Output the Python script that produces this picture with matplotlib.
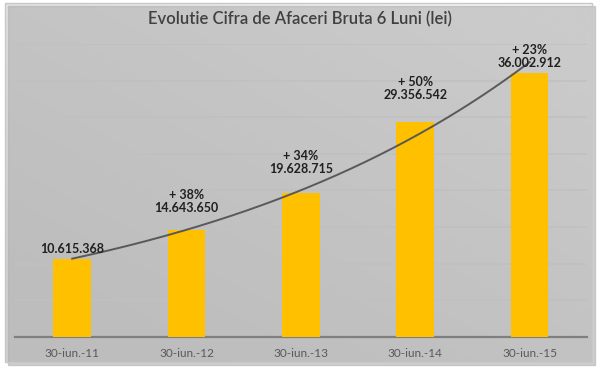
import numpy as np
import matplotlib.pyplot as plt
from matplotlib.patches import Rectangle
from matplotlib.colors import LinearSegmentedColormap

# data
dates = ['30-iun.-11', '30-iun.-12', '30-iun.-13', '30-iun.-14', '30-iun.-15']
values = [10615368, 14643650, 19628715, 29356542, 36002912]
growth = ['', '+ 38%', '+ 34%', '+ 50%', '+ 23%']

def fmt(v):
    return '{:,}'.format(v).replace(',', '.')

plt.rcParams['font.family'] = ['Lato', 'DejaVu Sans']

fig = plt.figure(figsize=(6, 3.69), dpi=100)
fig.patch.set_facecolor('white')

# background panel with a soft gradient and shadow
bg = fig.add_axes([0, 0, 1, 1], zorder=-10)
bg.set_xlim(0, 600)
bg.set_ylim(369, 0)
bg.axis('off')
bg.add_patch(Rectangle((8, 6), 587, 359, color='#b0b0b0', alpha=0.6))
yy, xx = np.mgrid[0:1:200j, 0:1:300j]
grad = np.clip(0.6 * (1 - xx) + 0.6 * yy - 0.1 * (1 - yy), 0, 1)
cm = LinearSegmentedColormap.from_list('bgc', ['#f4f4f4', '#e2e2e2', '#d2d2d2'])
bg.imshow(grad, extent=(5, 592, 362, 3), cmap=cm, vmin=0, vmax=1,
          aspect='auto', interpolation='bicubic')
bg.add_patch(Rectangle((5, 3), 587, 359, fill=False, ec='#c8c8c8', lw=1))

ax = fig.add_axes([0.025, 0.0867, 0.953, 0.7943])
ax.patch.set_alpha(0)
x = np.arange(len(values))
ax.bar(x, values, width=0.33, color='#FFC000', zorder=3)

# exponential trendline
k, b = np.polyfit(x, np.log(values), 1)
xs = np.linspace(0, len(values) - 1, 200)
ax.plot(xs, np.exp(b + k * xs), color='#595959', lw=1.4, zorder=4)

ax.set_ylim(0, 40000000)
ax.set_xlim(-0.5, len(values) - 0.5)
ax.set_yticks(np.arange(0, 40000001, 5000000))
ax.yaxis.grid(True, color='#c0c0c0', lw=1.1, zorder=0)
ax.set_yticklabels([])
ax.tick_params(axis='y', length=0)
ax.set_xticks(x)
ax.set_xticklabels(dates, color='#595959', fontsize=8.5)
ax.tick_params(axis='x', length=0, pad=8)
for s in ['top', 'right', 'left']:
    ax.spines[s].set_visible(False)
ax.spines['bottom'].set_color('#7f7f7f')
ax.spines['bottom'].set_linewidth(1.6)

label_off = [3, 11, 13, 15, 3]
for i, v in enumerate(values):
    txt = fmt(v) if growth[i] == '' else growth[i] + '\n' + fmt(v)
    ax.annotate(txt, (x[i], v), xytext=(0, label_off[i]), textcoords='offset points',
                ha='center', va='bottom', fontsize=9, fontweight='bold',
                color='#202020', linespacing=1.1, zorder=5)

fig.text(0.5, 0.947, 'Evolutie Cifra de Afaceri Bruta 6 Luni (lei)',
         ha='center', va='center', fontsize=12, fontweight='semibold', color='#404040')

plt.savefig('out.png', dpi=100)
